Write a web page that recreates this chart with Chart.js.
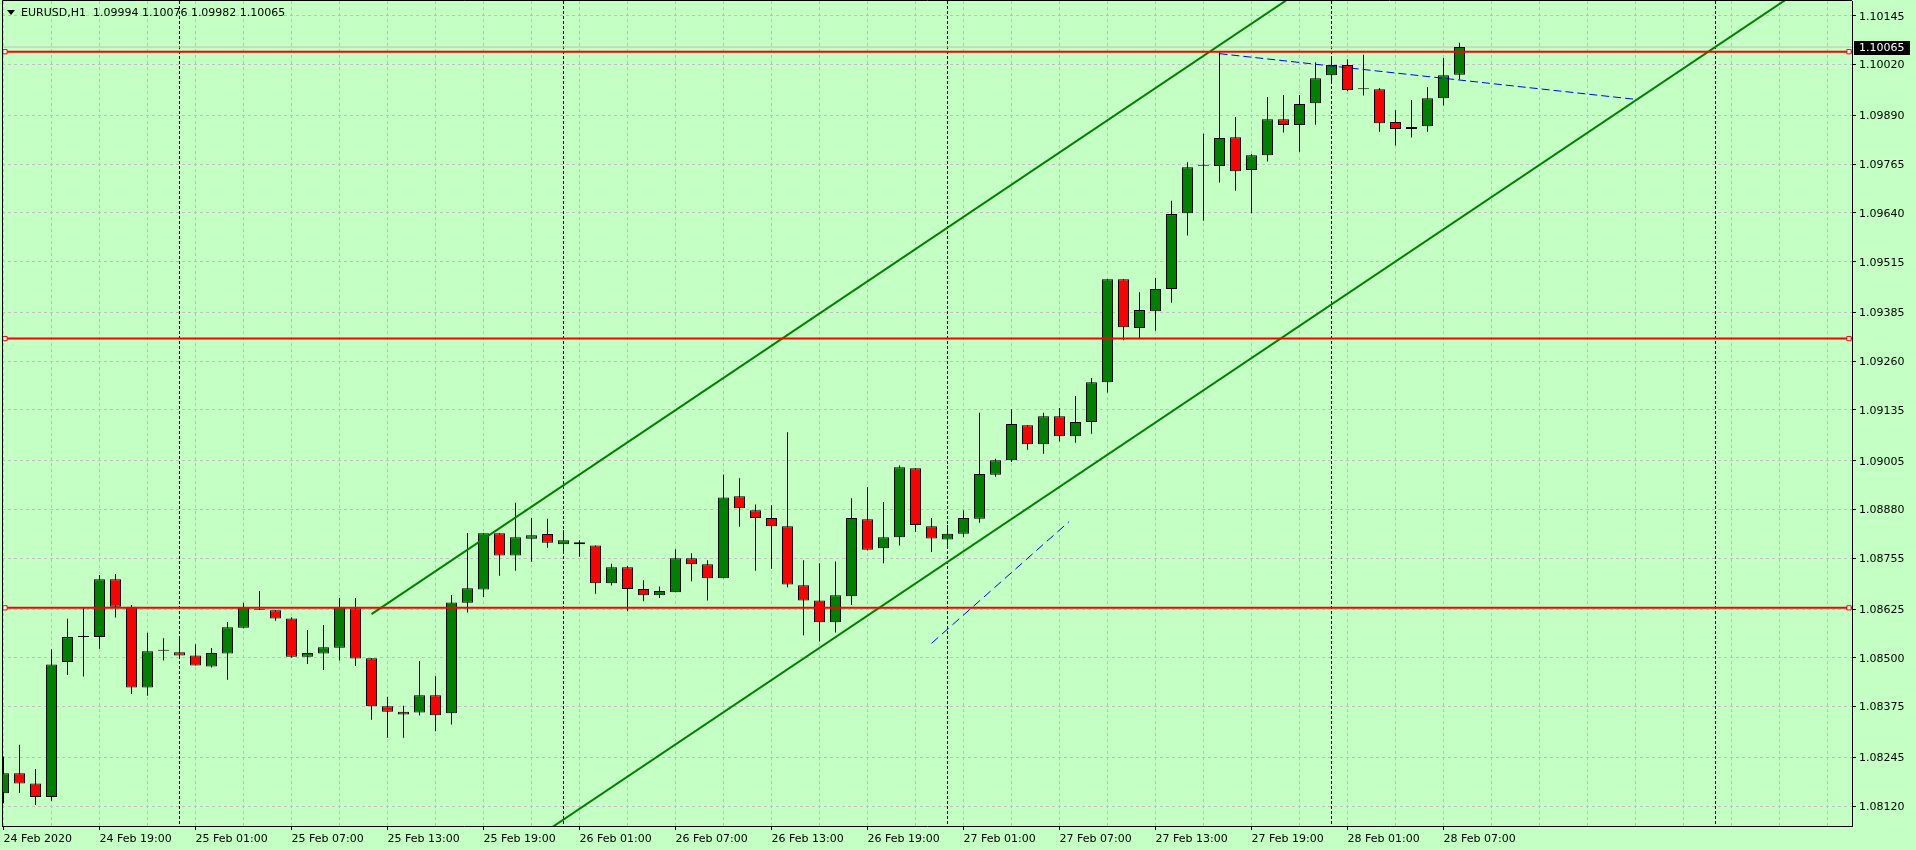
<!DOCTYPE html>
<html>
<head>
<meta charset="utf-8">
<script src="https://cdn.jsdelivr.net/npm/chart.js@4.4.1/dist/chart.umd.min.js"></script>
<style>
  html, body { margin: 0; padding: 0; background: #c4ffc4; overflow: hidden; }
  canvas { display: block; }
</style>
</head>
<body>
<canvas id="chart" width="1916" height="850"></canvas>
<script>
// EURUSD H1, 24 Feb 2020 13:00 .. 28 Feb 2020 08:00 (one bar per hour)
const opens = [
  1.08153, 1.08204, 1.08178, 1.08143, 1.08489, 1.08553, 1.08553, 1.08701, 1.08631, 1.08424,
  1.08518, 1.08514, 1.08506, 1.08478, 1.08511, 1.08577, 1.08623, 1.08622, 1.08601, 1.08503,
  1.08511, 1.08526, 1.08627, 1.08499, 1.08376, 1.08362, 1.08360, 1.08404, 1.08358, 1.08641,
  1.08675, 1.08819, 1.08762, 1.08805, 1.08817, 1.08791, 1.08796, 1.08788, 1.08691, 1.08732,
  1.08676, 1.08660, 1.08668, 1.08755, 1.08740, 1.08704, 1.08914, 1.08878, 1.08858, 1.08837,
  1.08686, 1.08647, 1.08591, 1.08658, 1.08855, 1.08781, 1.08809, 1.08986, 1.08837, 1.08803,
  1.08818, 1.08856, 1.08969, 1.09006, 1.09096, 1.09047, 1.09119, 1.09068, 1.09104, 1.09206,
  1.09470, 1.09345, 1.09388, 1.09445, 1.09639, 1.09761, 1.09760, 1.09834, 1.09750, 1.09788,
  1.09880, 1.09865, 1.09921, 1.09993, 1.10019, 1.09957, 1.09957, 1.09873, 1.09855, 1.09862,
  1.09934, 1.09994
];
const highs = [
  1.08247, 1.08277, 1.08215, 1.08522, 1.08600, 1.08630, 1.08712, 1.08715, 1.08635, 1.08564,
  1.08550, 1.08550, 1.08535, 1.08525, 1.08592, 1.08641, 1.08671, 1.08622, 1.08604, 1.08571,
  1.08584, 1.08653, 1.08653, 1.08499, 1.08400, 1.08377, 1.08492, 1.08453, 1.08661, 1.08820,
  1.08819, 1.08819, 1.08897, 1.08858, 1.08856, 1.08827, 1.08801, 1.08788, 1.08741, 1.08735,
  1.08699, 1.08683, 1.08778, 1.08768, 1.08750, 1.08970, 1.08960, 1.08893, 1.08891, 1.09078,
  1.08750, 1.08742, 1.08747, 1.08909, 1.08937, 1.08899, 1.08993, 1.08986, 1.08858, 1.08840,
  1.08878, 1.09128, 1.09010, 1.09137, 1.09096, 1.09128, 1.09140, 1.09171, 1.09217, 1.09470,
  1.09470, 1.09437, 1.09473, 1.09671, 1.09770, 1.09843, 1.10053, 1.09886, 1.09791, 1.09937,
  1.09942, 1.09942, 1.10026, 1.10042, 1.10034, 1.10045, 1.09960, 1.09903, 1.09929, 1.09962,
  1.10037, 1.10076
];
const lows = [
  1.08127, 1.08154, 1.08123, 1.08134, 1.08456, 1.08452, 1.08523, 1.08603, 1.08407, 1.08403,
  1.08493, 1.08501, 1.08480, 1.08475, 1.08444, 1.08575, 1.08623, 1.08595, 1.08500, 1.08484,
  1.08469, 1.08493, 1.08479, 1.08341, 1.08295, 1.08295, 1.08352, 1.08312, 1.08329, 1.08616,
  1.08656, 1.08710, 1.08723, 1.08746, 1.08782, 1.08768, 1.08759, 1.08664, 1.08685, 1.08619,
  1.08645, 1.08653, 1.08668, 1.08696, 1.08647, 1.08704, 1.08836, 1.08723, 1.08728, 1.08681,
  1.08558, 1.08542, 1.08565, 1.08635, 1.08775, 1.08742, 1.08788, 1.08823, 1.08771, 1.08787,
  1.08810, 1.08846, 1.08964, 1.09002, 1.09033, 1.09023, 1.09054, 1.09051, 1.09074, 1.09180,
  1.09314, 1.09319, 1.09338, 1.09410, 1.09582, 1.09620, 1.09718, 1.09697, 1.09639, 1.09772,
  1.09846, 1.09797, 1.09866, 1.09975, 1.09952, 1.09941, 1.09848, 1.09813, 1.09833, 1.09848,
  1.09915, 1.09982
];
const closes = [
  1.08204, 1.08178, 1.08143, 1.08483, 1.08553, 1.08553, 1.08701, 1.08631, 1.08424, 1.08517,
  1.08518, 1.08506, 1.08480, 1.08512, 1.08578, 1.08630, 1.08623, 1.08601, 1.08503, 1.08512,
  1.08527, 1.08630, 1.08498, 1.08376, 1.08362, 1.08355, 1.08404, 1.08353, 1.08642, 1.08678,
  1.08819, 1.08762, 1.08809, 1.08814, 1.08795, 1.08801, 1.08791, 1.08691, 1.08732, 1.08676,
  1.08660, 1.08671, 1.08755, 1.08740, 1.08704, 1.08911, 1.08883, 1.08858, 1.08837, 1.08688,
  1.08647, 1.08591, 1.08660, 1.08858, 1.08777, 1.08809, 1.08988, 1.08840, 1.08806, 1.08818,
  1.08858, 1.08971, 1.09006, 1.09099, 1.09047, 1.09119, 1.09068, 1.09104, 1.09206, 1.09470,
  1.09347, 1.09391, 1.09445, 1.09637, 1.09757, 1.09761, 1.09832, 1.09747, 1.09788, 1.09880,
  1.09865, 1.09919, 1.09985, 1.10019, 1.09955, 1.09957, 1.09870, 1.09855, 1.09860, 1.09934,
  1.09993, 1.10065
];

// time axis labels (bar index -> text)
const tickBars = [0, 6, 12, 18, 24, 30, 36, 42, 48, 54, 60, 66, 72, 78, 84, 90];
const tickLabels = ['24 Feb 2020', '24 Feb 19:00', '25 Feb 01:00', '25 Feb 07:00', '25 Feb 13:00',
  '25 Feb 19:00', '26 Feb 01:00', '26 Feb 07:00', '26 Feb 13:00', '26 Feb 19:00', '27 Feb 01:00',
  '27 Feb 07:00', '27 Feb 13:00', '27 Feb 19:00', '28 Feb 01:00', '28 Feb 07:00'];
const separatorBars = [11, 35, 59, 83, 107];

// price axis labels
const priceTicks = [1.08120, 1.08245, 1.08375, 1.08500, 1.08625, 1.08755, 1.08880, 1.09005, 1.09135,
  1.09260, 1.09385, 1.09515, 1.09640, 1.09765, 1.09890, 1.10020, 1.10145];

// drawn objects
const redLevels = [1.10053, 1.09318, 1.08628];
const upperChannel = [[23, 1.08612], [82, 1.10235]];
const lowerChannel = [[30, 1.07948], [116, 1.10313]];
const blueTrend1 = [[76, 1.10048], [102, 1.09931]];
const blueTrend2 = [[58, 1.08537], [66.6, 1.08849]];

const BG = '#c4ffc4';
const GRID = '#c0c0c0';
const BULL = '#008000';
const BEAR = '#ff0000';
const FONT = 'DejaVu Sans';

const X_MIN = -0.09375, X_MAX = 115.53125;
const Y_MIN = 1.08069, Y_MAX = 1.10183;

const gridBars = [];
for (let b = 0; b <= 114; b += 3) gridBars.push(b);

const bid = closes[closes.length - 1];

function seg(pts) {
  return pts.map(p => ({x: p[0], y: p[1]}));
}

function noPad(s) {
  s.paddingTop = 0;
  s.paddingBottom = 0;
  s.paddingLeft = 0;
  s.paddingRight = 0;
}

let wickData = highs.map((h, i) => ({x: i, y: [lows[i], h]}));
let bodyData = opens.map((o, i) => ({x: i, y: [o, closes[i]]}));
let bodyColors = opens.map((o, i) => closes[i] > o ? BULL : (closes[i] < o ? BEAR : '#000'));

let datasets = [];

// red horizontal levels with end markers
redLevels.forEach(lv => {
  datasets.push({
    type: 'line',
    data: [{x: X_MIN, y: lv}, {x: X_MIN + 3 / 16, y: lv}, {x: X_MAX - 3 / 16, y: lv}, {x: X_MAX, y: lv}],
    borderColor: '#ff0000', borderWidth: 2,
    pointRadius: [0, 3, 3, 0], pointStyle: 'rect',
    pointBackgroundColor: '#ffffff', pointBorderColor: '#ff0000', pointBorderWidth: 1,
    order: 0, clip: 0
  });
});

datasets.push({type: 'line', data: seg(upperChannel), borderColor: BULL, borderWidth: 2, pointRadius: 0, order: 0, clip: 0});
datasets.push({type: 'line', data: seg(lowerChannel), borderColor: BULL, borderWidth: 2, pointRadius: 0, order: 0, clip: 0});
datasets.push({type: 'line', data: seg(blueTrend1), borderColor: '#0000ff', borderWidth: 1, borderDash: [8, 4], pointRadius: 0, order: 0, clip: 0});
datasets.push({type: 'line', data: seg(blueTrend2), borderColor: '#0000ff', borderWidth: 1, borderDash: [9, 5], pointRadius: 0, order: 0, clip: 0});

// candles
datasets.push({
  type: 'bar', data: bodyData, backgroundColor: bodyColors, borderColor: '#000', borderWidth: 1,
  borderSkipped: false, barThickness: 11, minBarLength: 1, grouped: false, inflateAmount: 0, order: 2, clip: 0
});
datasets.push({
  type: 'bar', data: wickData, backgroundColor: '#000', borderWidth: 0,
  barThickness: 1, grouped: false, inflateAmount: 0, order: 3, clip: 0
});

// bid line
datasets.push({type: 'line', data: [{x: X_MIN, y: bid}, {x: X_MAX, y: bid}], borderColor: GRID, borderWidth: 1, pointRadius: 0, order: 4, clip: 0});

const mtPlugin = {
  id: 'mt',
  beforeDraw(chart) {
    const c = chart.ctx;
    c.save();
    c.fillStyle = BG;
    c.fillRect(0, 0, chart.width, chart.height);
    c.restore();
  },
  beforeDatasetsDraw(chart) {
    const c = chart.ctx, a = chart.chartArea, xs = chart.scales.x;
    c.save();
    c.strokeStyle = '#000';
    c.lineWidth = 1;
    c.setLineDash([3, 2]);
    separatorBars.forEach(b => {
      const x = xs.getPixelForValue(b);
      c.beginPath();
      c.moveTo(x, a.top);
      c.lineTo(x, a.bottom);
      c.stroke();
    });
    c.restore();
  },
  afterDraw(chart) {
    const c = chart.ctx, a = chart.chartArea, ys = chart.scales.y;
    c.save();
    // frame
    c.strokeStyle = '#000';
    c.lineWidth = 1;
    c.beginPath();
    c.moveTo(2.5, a.bottom);
    c.lineTo(2.5, 0.5);
    c.lineTo(a.right, 0.5);
    c.stroke();
    // symbol title
    c.fillStyle = '#000';
    c.beginPath();
    c.moveTo(7, 10);
    c.lineTo(15, 10);
    c.lineTo(11, 15);
    c.closePath();
    c.fill();
    c.font = '11px "' + FONT + '"';
    c.textBaseline = 'middle';
    c.textAlign = 'left';
    c.fillText('EURUSD,H1  ' + opens[opens.length - 1].toFixed(5) + ' ' + highs[highs.length - 1].toFixed(5) + ' ' +
      lows[lows.length - 1].toFixed(5) + ' ' + bid.toFixed(5), 21, 13);
    // current price label
    const yc = Math.round(ys.getPixelForValue(bid));
    c.fillStyle = '#000';
    c.fillRect(a.right + 2, yc - 6, 56, 14);
    c.fillStyle = '#fff';
    c.fillText(bid.toFixed(5), a.right + 7, yc + 1);
    c.restore();
  }
};

new Chart(document.getElementById('chart'), {
  type: 'bar',
  data: {datasets: datasets},
  plugins: [mtPlugin],
  options: {
    responsive: false,
    animation: false,
    events: [],
    layout: {padding: {left: 2, top: 1, right: 0, bottom: 0}, autoPadding: false},
    plugins: {legend: {display: false}, tooltip: {enabled: false}},
    scales: {
      x: {
        type: 'linear', min: X_MIN, max: X_MAX, bounds: 'data', offset: false,
        afterBuildTicks: s => { s.ticks = gridBars.map(v => ({value: v})); },
        afterFit: s => { s.height = 24; noPad(s); },
        grid: {
          color: GRID, lineWidth: 1, offset: false, drawTicks: true, tickLength: 4, tickWidth: 1,
          tickColor: ctx => (ctx.tick && tickBars.indexOf(ctx.tick.value) >= 0) ? '#000' : 'rgba(0,0,0,0)'
        },
        border: {display: true, color: '#000', width: 1, dash: [3, 3]},
        ticks: {
          autoSkip: false, maxRotation: 0, minRotation: 0, align: 'start', padding: 3,
          color: '#000', font: {family: FONT, size: 11},
          callback: v => { const k = tickBars.indexOf(v); return k < 0 ? '' : tickLabels[k]; }
        }
      },
      y: {
        type: 'linear', position: 'right', min: Y_MIN, max: Y_MAX, bounds: 'data',
        afterBuildTicks: s => { s.ticks = priceTicks.map(v => ({value: v})); },
        afterFit: s => { s.width = 64; noPad(s); },
        grid: {color: GRID, lineWidth: 1, tickLength: 4, tickWidth: 1, tickColor: '#000'},
        border: {display: true, color: '#000', width: 1, dash: [3, 3]},
        ticks: {padding: 3, labelOffset: 1, color: '#000', font: {family: FONT, size: 11}, callback: v => v.toFixed(5)}
      }
    }
  }
});
</script>
</body>
</html>
